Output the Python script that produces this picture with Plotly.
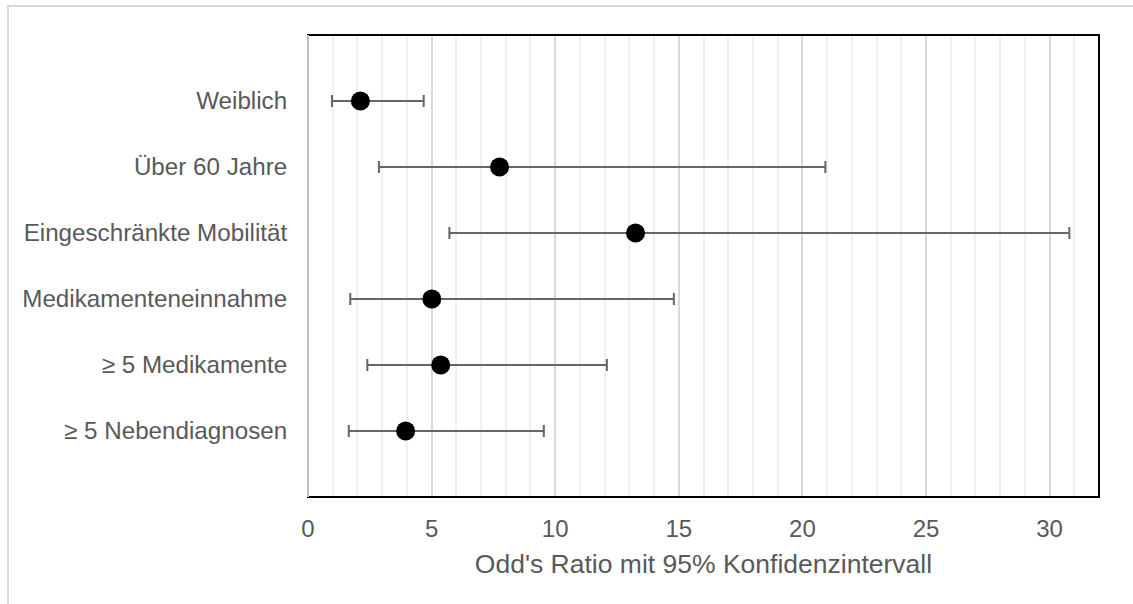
import plotly.graph_objects as go

# Odds ratios with 95% confidence limits per risk factor
factors = [
    "Weiblich",
    "Über 60 Jahre",
    "Eingeschränkte Mobilität",
    "Medikamenteneinnahme",
    "≥ 5 Medikamente",
    "≥ 5 Nebendiagnosen",
]
odds_ratio = [2.12, 7.75, 13.25, 5.01, 5.37, 3.95]
ci_lower = [0.97, 2.87, 5.72, 1.71, 2.40, 1.65]
ci_upper = [4.68, 20.93, 30.80, 14.80, 12.09, 9.54]

x_ticks = [0, 5, 10, 15, 20, 25, 30]

err_plus = [u - o for u, o in zip(ci_upper, odds_ratio)]
err_minus = [o - l for o, l in zip(odds_ratio, ci_lower)]

FONT = "Liberation Sans, Arial, sans-serif"
TXT = "#595959"

fig = go.Figure()
fig.add_trace(go.Scatter(
    x=odds_ratio,
    y=factors,
    mode="markers",
    marker=dict(color="black", size=19, line=dict(width=0)),
    error_x=dict(
        type="data",
        symmetric=False,
        array=err_plus,
        arrayminus=err_minus,
        color="#666666",
        thickness=2,
        width=6,
    ),
    showlegend=False,
))

fig.update_layout(
    width=1133,
    height=604,
    margin=dict(l=308, r=34, t=35, b=107),
    paper_bgcolor="white",
    plot_bgcolor="white",
    font=dict(family=FONT, color=TXT),
    xaxis=dict(
        range=[0, 32],
        tickvals=x_ticks,
        ticktext=[str(v) for v in x_ticks],
        showgrid=True,
        gridcolor="#d9d9d9",
        gridwidth=1.5,
        minor=dict(dtick=1, showgrid=True, gridcolor="#f0f0f0", gridwidth=1.5),
        zeroline=False,
        showline=False,
        ticks="outside",
        ticklen=10,
        tickcolor="rgba(0,0,0,0)",
        tickfont=dict(size=24, color=TXT, family=FONT),
        title=dict(
            text="Odd's Ratio mit 95% Konfidenzintervall",
            font=dict(size=26.5, color=TXT, family=FONT),
            standoff=13,
        ),
    ),
    yaxis=dict(
        type="category",
        categoryorder="array",
        categoryarray=factors,
        range=[6, -1],
        showgrid=False,
        zeroline=False,
        showline=False,
        ticks="outside",
        ticklen=15,
        tickcolor="rgba(0,0,0,0)",
        tickfont=dict(size=24.2, color=TXT, family=FONT),
    ),
    shapes=[
        # outer chart frame
        dict(type="rect", xref="paper", yref="paper",
             x0=-0.3793, x1=1.2, y0=-0.3, y1=1.0628,
             line=dict(color="#d9d9d9", width=2), layer="below"),
        # plot area frame
        dict(type="rect", xref="paper", yref="paper",
             x0=0, x1=1, y0=0, y1=1,
             line=dict(color="black", width=2)),
        # vertical axis line
        dict(type="line", xref="paper", yref="paper",
             x0=0, x1=0, y0=0, y1=1,
             line=dict(color="#bfbfbf", width=2)),
    ],
)

fig.write_html("out.html")
